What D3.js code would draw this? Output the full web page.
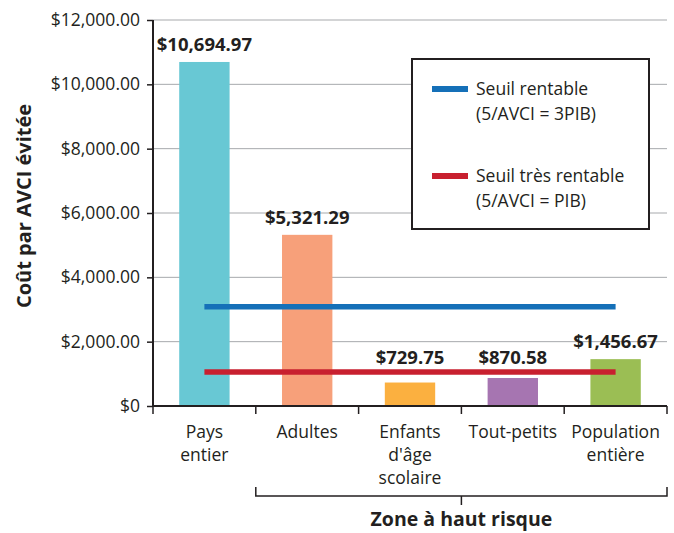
<!DOCTYPE html>
<html>
<head>
<meta charset="utf-8">
<script src="https://cdn.jsdelivr.net/npm/d3@7"></script>
<style>
	body { margin: 0; background: #fff; }
	text { font-family: "Open Sans", sans-serif; fill: #231f20; }
</style>
</head>
<body>
<svg id="chart"></svg>
<script>
const categories = ["Pays\nentier", "Adultes", "Enfants\nd'âge\nscolaire", "Tout-petits", "Population\nentière"],
	costs = [10694.97, 5321.29, 729.75, 870.58, 1456.67],
	barColors = ["#68c8d4", "#f7a07a", "#fbb040", "#a675b1", "#9bbe54"],
	yTicks = [0, 2000, 4000, 6000, 8000, 10000, 12000];
const thresholds = [3087, 1057],
	thresholdColors = ["#1570b8", "#c8202f"],
	legendLabels = [["Seuil rentable", "(5/AVCI = 3PIB)"], ["Seuil très rentable", "(5/AVCI = PIB)"]];
const yTitle = "Coût par AVCI évitée",
	groupTitle = "Zone à haut risque";

const width = 674,
	height = 533,
	plotLeft = 153, plotRight = 667, plotTop = 20, plotBottom = 406;

const svg = d3.select('svg#chart')
	.attr('width', width)
	.attr('height', height);

const x = d3.scaleBand()
	.domain(categories)
	.range([plotLeft, plotRight])
	.padding(0);

const y = d3.scaleLinear()
	.domain([0, 12000])
	.range([plotBottom, plotTop]);

const money = d3.format(",.2f");
const tickFmt = v => v === 0 ? "$0" : "$" + money(v);

// gridlines
svg.append('g')
	.selectAll('line')
	.data(yTicks.filter(v => v > 0))
	.join('line')
	.attr('x1', plotLeft).attr('x2', plotRight)
	.attr('y1', d => y(d)).attr('y2', d => y(d))
	.style('stroke', '#a7a9ac')
	.style('stroke-width', 1);

// y axis
const yAxis = svg.append('g')
	.attr('transform', `translate(${plotLeft},0)`)
	.call(d3.axisLeft(y).tickValues(yTicks).tickFormat(tickFmt).tickSize(6).tickPadding(7));
yAxis.select('.domain').attr('d', `M0,${plotTop}V${plotBottom}`).style('stroke', '#231f20').style('stroke-width', 2);
yAxis.selectAll('.tick line').style('stroke', '#231f20').style('stroke-width', 1.5);
yAxis.selectAll('.tick text')
	.style('font-family', '"Open Sans", sans-serif')
	.style('font-size', '17.5px')
	.style('fill', '#231f20');

// bars
const barW = x.bandwidth() * 0.49;
svg.append('g')
	.selectAll('rect')
	.data(costs)
	.join('rect')
	.attr('x', (d, i) => x(categories[i]) + (x.bandwidth() - barW) / 2)
	.attr('y', d => y(d))
	.attr('width', barW)
	.attr('height', d => plotBottom - y(d))
	.attr('fill', (d, i) => barColors[i]);

// threshold lines
const lineX1 = x(categories[0]) + x.bandwidth() / 2,
	lineX2 = x(categories[categories.length - 1]) + x.bandwidth() / 2;
svg.append('g')
	.selectAll('line')
	.data(thresholds)
	.join('line')
	.attr('x1', lineX1).attr('x2', lineX2)
	.attr('y1', d => y(d)).attr('y2', d => y(d))
	.style('stroke', (d, i) => thresholdColors[i])
	.style('stroke-width', 5.5);

// value labels (kept above the red line)
svg.append('g')
	.selectAll('text')
	.data(costs)
	.join('text')
	.attr('x', (d, i) => x(categories[i]) + x.bandwidth() / 2)
	.attr('y', d => Math.min(y(d) - 11, y(thresholds[1]) - 8))
	.attr('text-anchor', 'middle')
	.style('font-weight', 'bold')
	.style('font-size', '18.5px')
	.text(d => "$" + money(d));

// x axis
const xAxis = svg.append('g')
	.attr('transform', `translate(0,${plotBottom})`);
xAxis.append('line')
	.attr('x1', plotLeft - 1).attr('x2', plotRight)
	.style('stroke', '#231f20').style('stroke-width', 2);
xAxis.selectAll('line.tk')
	.data([...categories.map(c => x(c)), plotRight])
	.join('line')
	.classed('tk', true)
	.attr('x1', d => d).attr('x2', d => d)
	.attr('y1', 0).attr('y2', 8)
	.style('stroke', '#231f20').style('stroke-width', 1.5);

xAxis.selectAll('text.cat')
	.data(categories)
	.join('text')
	.classed('cat', true)
	.attr('x', d => x(d) + x.bandwidth() / 2)
	.attr('y', 32)
	.attr('text-anchor', 'middle')
	.style('font-size', '17.5px')
	.selectAll('tspan')
	.data(d => d.split("\n"))
	.join('tspan')
	.attr('x', function() { return this.parentNode.getAttribute('x'); })
	.attr('dy', (d, i) => i === 0 ? 0 : 23)
	.text(d => d);

// bracket for the high-risk zone
const bx1 = x(categories[1]), bx2 = plotRight, bmid = (bx1 + bx2) / 2, by = 496;
svg.append('path')
	.attr('d', `M${bx1},${by - 9}V${by}H${bx2}V${by - 9}M${bmid},${by}V${by + 9}`)
	.style('fill', 'none')
	.style('stroke', '#231f20')
	.style('stroke-width', 1.5);
svg.append('text')
	.attr('x', bmid)
	.attr('y', 526)
	.attr('text-anchor', 'middle')
	.style('font-weight', 'bold')
	.style('font-size', '19.5px')
	.text(groupTitle);

// y title
svg.append('text')
	.attr('transform', `translate(31,206) rotate(-90)`)
	.attr('text-anchor', 'middle')
	.style('font-weight', 'bold')
	.style('font-size', '20px')
	.text(yTitle);

// legend
const legend = svg.append('g').attr('transform', 'translate(412,59)');
legend.append('rect')
	.attr('width', 237).attr('height', 170)
	.style('fill', '#fff')
	.style('stroke', '#231f20')
	.style('stroke-width', 2);
const item = legend.selectAll('g.item')
	.data(legendLabels)
	.join('g')
	.classed('item', true)
	.attr('transform', (d, i) => `translate(0,${30 + i * 87})`);
item.append('line')
	.attr('x1', 20).attr('x2', 56)
	.style('stroke', (d, i) => thresholdColors[i])
	.style('stroke-width', 6);
item.append('text')
	.attr('x', 64)
	.attr('y', 6)
	.style('font-size', '17.5px')
	.selectAll('tspan')
	.data(d => d)
	.join('tspan')
	.attr('x', 64)
	.attr('dy', (d, i) => i === 0 ? 0 : 25)
	.text(d => d);
</script>
</body>
</html>
